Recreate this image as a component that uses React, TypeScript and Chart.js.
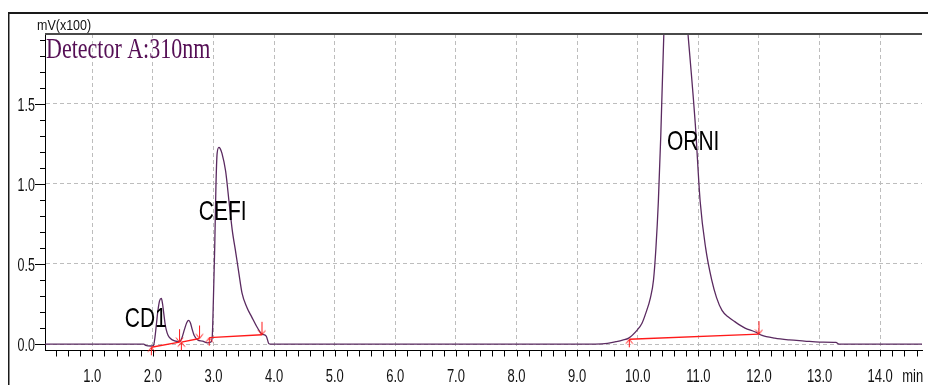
import React, { useEffect, useRef } from 'react';
import { Chart, registerables } from 'chart.js';

Chart.register(...registerables);

// ---- data ----
const traceTimes = [
  0.22, 1.85, 1.88, 1.97, 2.01, 2.03, 2.06, 2.08, 2.11, 2.14, 2.16, 2.18, 2.2, 2.22, 2.25, 2.29, 2.36, 2.44,
  2.48, 2.52, 2.56, 2.59, 2.62, 2.65, 2.68, 2.74, 2.82, 2.9, 2.96, 2.98, 3.0, 3.02, 3.04, 3.06, 3.09, 3.11,
  3.14, 3.2, 3.26, 3.31, 3.37, 3.42, 3.47, 3.55, 3.63, 3.72, 3.8, 3.87, 3.91, 3.94, 9.3, 9.5, 9.64, 9.75,
  9.85, 9.99, 10.07, 10.13, 10.21, 10.26, 10.3, 10.34, 10.38, 10.43, 10.5, 10.6, 10.7, 10.83, 10.95, 11.03,
  11.12, 11.22, 11.3, 11.39, 11.49, 11.6, 11.77, 11.93, 12.04, 12.26, 12.5, 12.75, 13.0, 13.27, 13.32, 14.69,
];
const traceSignal = [
  0, 0, -0.008, -0.012, -0.01, 0.03, 0.13, 0.2, 0.27, 0.285, 0.25, 0.19, 0.13, 0.09, 0.055, 0.035, 0.02, 0.015,
  0.04, 0.09, 0.135, 0.148, 0.132, 0.09, 0.055, 0.026, 0.018, 0.008, 0.014, 0.05, 0.3, 0.6, 0.98, 1.19, 1.227, 1.22,
  1.19, 1.08, 0.876, 0.71, 0.565, 0.44, 0.32, 0.23, 0.17, 0.105, 0.062, 0.05, 0.005, 0, 0, 0.004, 0.015, 0.025,
  0.037, 0.087, 0.13, 0.19, 0.29, 0.4, 0.6, 0.89, 1.3, 1.93, 2.45, 2.65, 2.5, 1.93, 1.37, 0.89,
  0.6, 0.4, 0.29, 0.21, 0.17, 0.14, 0.1, 0.077, 0.056, 0.037, 0.026, 0.019, 0.012, 0.01, 0, 0,
];

// integration baselines (null = gap between peaks)
const baselineTimes = [1.975, 2.44, 2.44, 2.47, 2.77, 2.77, 2.93, 3.8, 3.8, 9.86, 12.0];
const baselineValues = [-0.02, 0.012, null, 0.012, 0.035, null, 0.04, 0.058, null, 0.03, 0.062];

const peakStartTimes = [1.975, 2.47, 2.93, 9.86];
const peakStartValues = [-0.02, 0.012, 0.04, 0.03];
const peakEndTimes = [2.44, 2.77, 3.8, 12.0];
const peakEndValues = [0.012, 0.035, 0.058, 0.062];

const peakNames = ['CD1', 'CEFI', 'ORNI'];
const peakLabelTimes = [1.882, 3.152, 10.915];
const peakLabelValues = [0.169, 0.836, 1.273];

const xMajorTicks = [1, 2, 3, 4, 5, 6, 7, 8, 9, 10, 11, 12, 13, 14];
const yMajorTicks = [0, 0.5, 1.0, 1.5];
const X_MIN = 0.22;
const X_MAX = 14.69;
const Y_MIN = -0.037;
const Y_MAX = 1.935;

const TRACE = '#5a2a60';
const RED = '#ff1a1a';
const SANS = "'Liberation Sans', Arial, sans-serif";
const SERIF = "'Liberation Serif', 'Times New Roman', serif";

function makeArrow(up: boolean): HTMLCanvasElement {
  const c = document.createElement('canvas');
  c.width = 9;
  c.height = 30;
  const g = c.getContext('2d')!;
  g.strokeStyle = RED;
  g.lineWidth = 1;
  g.beginPath();
  if (up) {
    g.moveTo(4.5, 15);
    g.lineTo(4.5, 23);
    g.moveTo(1, 19.5);
    g.lineTo(4.5, 15);
    g.lineTo(8, 19.5);
  } else {
    g.moveTo(4.5, 2);
    g.lineTo(4.5, 15);
    g.moveTo(1, 10.5);
    g.lineTo(4.5, 15);
    g.lineTo(8, 10.5);
  }
  g.stroke();
  return c;
}

function stretchedText(
  ctx: CanvasRenderingContext2D, text: string, x: number, y: number,
  font: string, color: string, align: CanvasTextAlign, sy: number,
) {
  ctx.save();
  ctx.translate(x, y);
  ctx.scale(1, sy);
  ctx.font = font;
  ctx.fillStyle = color;
  ctx.textAlign = align;
  ctx.textBaseline = 'alphabetic';
  ctx.fillText(text, 0, 0);
  ctx.restore();
}

const decorPlugin = {
  id: 'decor',
  beforeDraw(chart: any) {
    const ctx = chart.ctx as CanvasRenderingContext2D;
    ctx.save();
    ctx.fillStyle = '#ffffff';
    ctx.fillRect(0, 0, chart.width, chart.height);
    ctx.fillStyle = '#1a1a1a';
    ctx.fillRect(8, 12, chart.width, 2);
    ctx.fillRect(8, 12, 1.5, chart.height);
    ctx.restore();
  },
  afterDraw(chart: any) {
    const ctx = chart.ctx as CanvasRenderingContext2D;
    const { left, top, right, bottom } = chart.chartArea;
    const xs = chart.scales.x;
    const ys = chart.scales.y;
    ctx.save();
    // top border of plot
    ctx.fillStyle = '#4a4a4a';
    ctx.fillRect(left, top - 1, right - left, 2);
    // tick marks
    ctx.strokeStyle = '#000';
    ctx.lineWidth = 1;
    ctx.beginPath();
    for (let i = 1; i * 0.2 <= X_MAX; i++) {
      const v = i * 0.2;
      if (v < X_MIN) continue;
      const px = Math.round(xs.getPixelForValue(v)) + 0.5;
      ctx.moveTo(px, bottom);
      ctx.lineTo(px, bottom + 6.5);
    }
    for (let i = 0; i * 0.1 <= Y_MAX; i++) {
      const v = i * 0.1;
      const py = Math.round(ys.getPixelForValue(v)) + 0.5;
      const major = i % 5 === 0;
      ctx.moveTo(left, py);
      ctx.lineTo(left - (major ? 10 : 5), py);
    }
    ctx.stroke();
    ctx.restore();

    // tick labels (vertically stretched, as in the reference screenshot)
    const tickFont = `13px ${SANS}`;
    xMajorTicks.forEach((v) => {
      stretchedText(ctx, v.toFixed(1), xs.getPixelForValue(v), bottom + 32, tickFont, '#111', 'center', 1.45);
    });
    stretchedText(ctx, 'min', xs.getPixelForValue(14) + 22, bottom + 32, tickFont, '#111', 'left', 1.45);
    yMajorTicks.forEach((v) => {
      stretchedText(ctx, v.toFixed(1), left - 10, ys.getPixelForValue(v) + 7, `12.5px ${SANS}`, '#111', 'right', 1.45);
    });
    stretchedText(ctx, 'mV(x100)', left - 8, top - 4, `12.5px ${SANS}`, '#111', 'left', 1.2);

    // detector title
    stretchedText(ctx, 'Detector A:310nm', left + 1, top + 24, `22px ${SERIF}`, '#550f55', 'left', 1.35);

    // peak labels
    peakNames.forEach((name, i) => {
      const cx = xs.getPixelForValue(peakLabelTimes[i]);
      const cy = ys.getPixelForValue(peakLabelValues[i]);
      stretchedText(ctx, name, cx, cy + 10, `21px ${SANS}`, '#000', 'center', 1.35);
    });
  },
};

export default function App() {
  const ref = useRef<HTMLCanvasElement | null>(null);

  useEffect(() => {
    if (!ref.current) return;
    const upArrow = makeArrow(true);
    const downArrow = makeArrow(false);
    const chart = new Chart(ref.current, {
      type: 'line',
      data: {
        datasets: [
          {
            label: 'Detector A:310nm',
            data: traceTimes.map((t, i) => ({ x: t, y: traceSignal[i] })),
            borderColor: TRACE,
            borderWidth: 1.3,
            pointRadius: 0,
            cubicInterpolationMode: 'monotone',
            order: 3,
          },
          {
            label: 'baseline',
            data: baselineTimes.map((t, i) => ({ x: t, y: baselineValues[i] })),
            borderColor: RED,
            borderWidth: 1.4,
            pointRadius: 0,
            spanGaps: false,
            order: 2,
          },
          {
            label: 'start',
            data: peakStartTimes.map((t, i) => ({ x: t, y: peakStartValues[i] })),
            showLine: false,
            pointStyle: upArrow,
            pointRadius: 5,
            clip: false,
            order: 1,
          },
          {
            label: 'end',
            data: peakEndTimes.map((t, i) => ({ x: t, y: peakEndValues[i] })),
            showLine: false,
            pointStyle: downArrow,
            pointRadius: 5,
            clip: false,
            order: 1,
          },
        ],
      } as any,
      options: {
        responsive: false,
        animation: false,
        events: [],
        layout: { padding: { top: 34, left: 0, right: 0, bottom: 0 } },
        plugins: { legend: { display: false }, tooltip: { enabled: false } },
        scales: {
          x: {
            type: 'linear',
            min: X_MIN,
            max: X_MAX,
            afterBuildTicks: (s: any) => { s.ticks = xMajorTicks.map((v) => ({ value: v })); },
            afterFit: (s: any) => { s.height = 35; },
            ticks: { display: false },
            grid: { color: '#bdbdbd', lineWidth: 1, drawTicks: false },
            border: { color: '#000', width: 1, dash: [4, 3] },
          },
          y: {
            type: 'linear',
            min: Y_MIN,
            max: Y_MAX,
            afterBuildTicks: (s: any) => { s.ticks = yMajorTicks.map((v) => ({ value: v })); },
            afterFit: (s: any) => { s.width = 45; },
            ticks: { display: false },
            grid: { color: '#bdbdbd', lineWidth: 1, drawTicks: false },
            border: { color: '#000', width: 1, dash: [4, 3] },
          },
        },
      } as any,
      plugins: [decorPlugin],
    });
    return () => chart.destroy();
  }, []);

  return (
    <div style={{ position: 'absolute', left: 0, top: 0, width: 928, height: 385, background: '#fff' }}>
      <canvas ref={ref} width={928} height={385} style={{ display: 'block' }} />
    </div>
  );
}
